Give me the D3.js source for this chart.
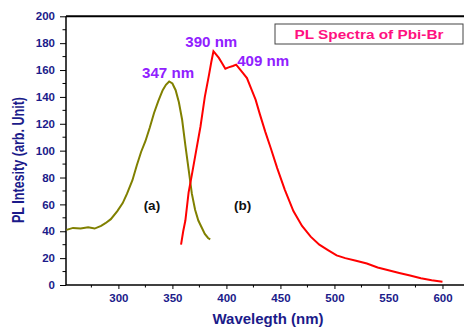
<!DOCTYPE html>
<html>
<head>
<meta charset="utf-8">
<script src="https://cdn.jsdelivr.net/npm/d3@7"></script>
<style>
  body { margin: 0; background: #fff; }
  svg { display: block; font-family: "Liberation Sans", Arial, sans-serif; font-weight: bold; }
</style>
</head>
<body>
<div id="chart"></div>
<script>
// spectrum (a): olive curve
const wlA = [252, 258, 265, 272, 278, 284, 288, 293, 299, 304, 308, 313, 317, 321, 325, 329, 333, 337, 341, 344, 347, 350, 353, 356, 359, 362, 365, 368, 371, 374, 377, 380, 383, 385];
const plA = [41, 42.5, 42, 43, 42, 44, 46, 49, 55, 61, 68, 78, 89, 99, 107, 117, 128, 137, 145, 149, 151.5, 150, 145, 136, 123, 104, 86, 68, 56, 48, 43, 38, 35, 34];

// spectrum (b): red curve
const wlB = [358, 360, 362, 365, 368, 372, 376, 380, 384, 386, 388, 390, 393, 396, 399, 402, 406, 409, 412, 415, 419, 423, 427, 431, 436, 441, 447, 454, 462, 470, 478, 486, 494, 502, 510, 520, 530, 540, 550, 560, 570, 580, 590, 600];
const plB = [30, 40, 48, 69, 82, 100, 118, 140, 157, 166, 174, 172, 169, 165, 161, 162, 163, 164, 161, 158, 154, 146, 138, 127, 114, 102, 87, 71, 55, 44, 36, 30, 26, 22, 20, 18, 16, 13, 11, 9, 7, 5, 3.5, 2.5];

const xTicks = [300, 350, 400, 450, 500, 550, 600];
const xMinor = [275, 325, 375, 425, 475, 525, 575];
const yTicks = [0, 20, 40, 60, 80, 100, 120, 140, 160, 180, 200];
const yMinor = [10, 30, 50, 70, 90, 110, 130, 150, 170, 190];

const peakLabels = [
  { text: "347 nm", wl: 346, v: 154 },
  { text: "390 nm", wl: 386, v: 177 },
  { text: "409 nm", wl: 434, v: 163 }
];
const curveLabels = [
  { text: "(a)", wl: 331, v: 56 },
  { text: "(b)", wl: 415, v: 56 }
];

const width = 464, height = 327;
const marginLeft = 66, marginRight = 1, marginTop = 16.3, marginBottom = 42;

const x = d3.scaleLinear().domain([251.5, 619]).range([marginLeft, width - marginRight]);
const y = d3.scaleLinear().domain([0, 200]).range([height - marginBottom, marginTop]);

const navy = "#1b1b8a";

const svg = d3.select("#chart").append("svg")
  .attr("width", width).attr("height", height);

// frame top line
svg.append("line")
  .attr("x1", marginLeft).attr("x2", width)
  .attr("y1", marginTop).attr("y2", marginTop)
  .attr("stroke", "#000").attr("stroke-width", 2);

// x axis
const xAxis = svg.append("g").attr("transform", `translate(0,${y(0)})`);
xAxis.call(d3.axisBottom(x).tickValues(xTicks).tickSize(4).tickPadding(5).tickFormat(d3.format("d")));
xAxis.append("g").selectAll("line").data(xMinor).join("line")
  .attr("x1", d => x(d)).attr("x2", d => x(d)).attr("y1", 0).attr("y2", 2.5)
  .attr("stroke", "#000");
xAxis.select(".domain").attr("d", `M${marginLeft},0H${width}`).attr("stroke-width", 1.5);

// y axis
const yAxis = svg.append("g").attr("transform", `translate(${marginLeft},0)`);
yAxis.call(d3.axisLeft(y).tickValues(yTicks).tickSize(6).tickPadding(5));
yAxis.append("g").selectAll("line").data(yMinor).join("line")
  .attr("x1", -3.5).attr("x2", 0).attr("y1", d => y(d)).attr("y2", d => y(d))
  .attr("stroke", "#000");
yAxis.select(".domain").attr("d", `M0,${y(0)}V${marginTop}`).attr("stroke-width", 1.5);

svg.selectAll(".tick text")
  .attr("fill", navy).attr("font-size", 11.5).attr("font-weight", "bold")
  .attr("font-family", "Liberation Sans, Arial, sans-serif");

// axis titles
svg.append("text")
  .attr("x", 268).attr("y", 324)
  .attr("text-anchor", "middle").attr("fill", navy).attr("font-size", 15)
  .text("Wavelegth (nm)");

svg.append("text")
  .attr("transform", `translate(24,160) rotate(-90)`)
  .attr("text-anchor", "middle").attr("fill", navy).attr("font-size", 16)
  .attr("textLength", 126).attr("lengthAdjust", "spacingAndGlyphs")
  .text("PL Intesity (arb. Unit)");

// curves
const line = d3.line().x(d => x(d[0])).y(d => y(d[1])).curve(d3.curveLinear);
svg.append("path")
  .datum(wlA.map((w, i) => [w, plA[i]]))
  .attr("d", line).attr("fill", "none")
  .attr("stroke", "#808000").attr("stroke-width", 2);
svg.append("path")
  .datum(wlB.map((w, i) => [w, plB[i]]))
  .attr("d", line).attr("fill", "none")
  .attr("stroke", "#ff0000").attr("stroke-width", 2);

// legend box
svg.append("rect")
  .attr("x", 275).attr("y", 24).attr("width", 188).attr("height", 20)
  .attr("fill", "#fff").attr("stroke", "#444").attr("stroke-width", 1);
svg.append("text")
  .attr("x", 369).attr("y", 38.5)
  .attr("text-anchor", "middle").attr("fill", "#ff1080").attr("font-size", 12.5)
  .attr("textLength", 149).attr("lengthAdjust", "spacingAndGlyphs")
  .text("PL Spectra of Pbi-Br");

// peak labels
svg.selectAll(".peak").data(peakLabels).join("text")
  .attr("class", "peak")
  .attr("x", d => x(d.wl)).attr("y", d => y(d.v))
  .attr("text-anchor", "middle").attr("fill", "#9020ff").attr("font-size", 14)
  .attr("textLength", 52).attr("lengthAdjust", "spacingAndGlyphs")
  .text(d => d.text);

svg.selectAll(".clabel").data(curveLabels).join("text")
  .attr("class", "clabel")
  .attr("x", d => x(d.wl)).attr("y", d => y(d.v))
  .attr("text-anchor", "middle").attr("fill", "#111").attr("font-size", 13.5)
  .text(d => d.text);
</script>
</body>
</html>
